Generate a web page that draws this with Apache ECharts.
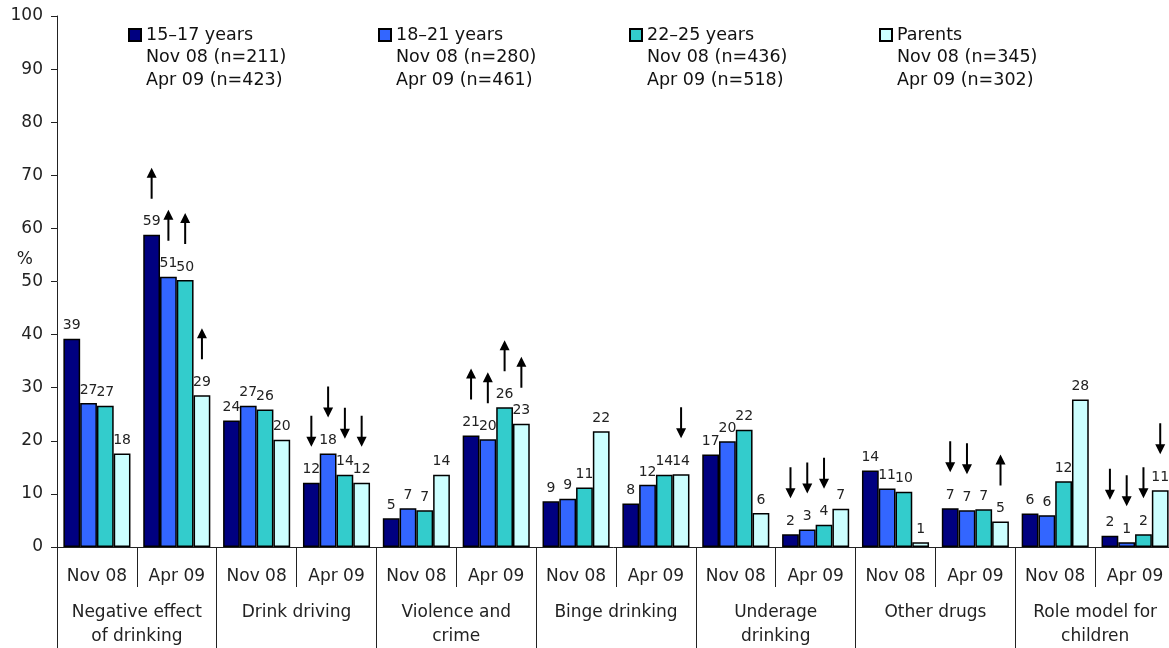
<!DOCTYPE html>
<html>
<head>
<meta charset="utf-8">
<script src="https://cdn.jsdelivr.net/npm/echarts@6/dist/echarts.min.js"></script>
<style>
  html, body { margin: 0; padding: 0; background: #fff; }
  #chart { width: 1169px; height: 648px; }
</style>
</head>
<body>
<div id="chart"></div>
<script>
// Survey waves and topic groups along the x axis
const periods = ['Nov 08', 'Apr 09', 'Nov 08', 'Apr 09', 'Nov 08', 'Apr 09', 'Nov 08', 'Apr 09',
                 'Nov 08', 'Apr 09', 'Nov 08', 'Apr 09', 'Nov 08', 'Apr 09'];
const topics = ['Negative effect\nof drinking', 'Drink driving', 'Violence and\ncrime', 'Binge drinking',
                'Underage\ndrinking', 'Other drugs', 'Role model for\nchildren'];

const seriesNames = ['15–17 years', '18–21 years', '22–25 years', 'Parents'];
const sampleNotes = [
  ['Nov 08 (n=211)', 'Apr 09 (n=423)'],
  ['Nov 08 (n=280)', 'Apr 09 (n=461)'],
  ['Nov 08 (n=436)', 'Apr 09 (n=518)'],
  ['Nov 08 (n=345)', 'Apr 09 (n=302)']
];

// Percentages per wave (Nov 08 / Apr 09 pairs per topic)
const age15to17 = [39.2, 58.8, 23.8, 12.1, 5.4, 21.0, 8.6, 8.2, 17.4, 2.4, 14.4, 7.3, 6.3, 2.1];
const age18to21 = [27.1, 50.9, 26.6, 17.6, 7.3, 20.3, 9.1, 11.7, 19.9, 3.3, 11.0, 6.9, 6.0, 0.9];
const age22to25 = [26.6, 50.3, 25.9, 13.6, 6.9, 26.3, 11.2, 13.6, 22.1, 4.2, 10.4, 7.1, 12.4, 2.4];
const parents   = [17.6, 28.6, 20.2, 12.1, 13.6, 23.2, 21.8, 13.7, 6.4, 7.2, 0.9, 4.8, 27.8, 10.7];

// Significant change since the previous wave: 'up', 'down' or ''
const change15to17 = ['', 'up', '', 'down', '', 'up', '', '', '', 'down', '', 'down', '', 'down'];
const change18to21 = ['', 'up', '', 'down', '', 'up', '', '', '', 'down', '', 'down', '', 'down'];
const change22to25 = ['', 'up', '', 'down', '', 'up', '', '', '', 'down', '', '', '', 'down'];
const changeParents = ['', 'up', '', 'down', '', 'up', '', 'down', '', '', '', 'up', '', 'down'];

const yTicks = { min: 0, max: 100, interval: 10 };

const values = [age15to17, age18to21, age22to25, parents];
const changes = [change15to17, change18to21, change22to25, changeParents];
const colors = ['#000080', '#3366FF', '#33CCCC', '#CCFFFF'];

const FONT = 'DejaVu Sans';
const UP_ARROW = 'path://M5,0 L10,10 L6,10 L6,31 L4,31 L4,10 L0,10 Z';
const DOWN_ARROW = 'path://M4,0 L6,0 L6,21 L10,21 L5,31 L0,21 L4,21 Z';
const ARROW_LEN = 31;
const ARROW_GAP = 36;

const series = values.map(function (vals, s) {
  const marks = [];
  changes[s].forEach(function (dir, i) {
    if (!dir) return;
    marks.push({
      coord: [i, vals[i]],
      symbol: dir === 'up' ? UP_ARROW : DOWN_ARROW,
      symbolSize: [10, ARROW_LEN],
      symbolOffset: [0, -(ARROW_GAP + ARROW_LEN / 2)]
    });
  });
  return {
    name: seriesNames[s],
    type: 'bar',
    xAxisIndex: 0,
    barGap: '0%',
    barCategoryGap: '16%',
    data: vals,
    itemStyle: { color: colors[s], borderColor: '#000', borderWidth: 1.5 },
    label: {
      show: true,
      position: 'top',
      distance: 6,
      fontFamily: FONT,
      fontSize: 14,
      color: '#222',
      formatter: function (p) { return Math.round(p.value); }
    },
    markPoint: {
      silent: true,
      symbolKeepAspect: false,
      label: { show: false },
      itemStyle: { color: '#000', borderWidth: 0 },
      data: marks
    }
  };
});

// Each legend entry: the swatch sits beside the first of three text lines,
// so two blank lines above keep the name line centred on the swatch.
const legendLeft = [128, 378, 629, 879];
const LINE_H = 22.5;
const legends = seriesNames.map(function (name, s) {
  return {
    data: [name],
    left: legendLeft[s],
    top: 35 - 2.5 * LINE_H,
    padding: 0,
    itemWidth: 12,
    itemHeight: 12,
    selectedMode: false,
    icon: 'rect',
    formatter: function (n) { return '\n\n' + n + '\n' + sampleNotes[s].join('\n'); },
    textStyle: {
      fontFamily: FONT,
      fontSize: 17.5,
      color: '#111',
      lineHeight: LINE_H
    }
  };
});

const chart = echarts.init(document.getElementById('chart'), null, { renderer: 'canvas' });
chart.setOption({
  animation: false,
  backgroundColor: '#fff',
  textStyle: { fontFamily: FONT },
  legend: legends,
  grid: { left: 57, right: -6, top: 16, bottom: 101, containLabel: false, outerBoundsMode: 'none' },
  xAxis: [
    {
      type: 'category',
      data: periods,
      position: 'bottom',
      axisLine: { show: true, lineStyle: { color: '#222', width: 1 } },
      axisTick: { show: true, interval: 0, length: 40, lineStyle: { color: '#222', width: 1 } },
      axisLabel: { interval: 0, margin: 21, fontFamily: FONT, fontSize: 17, color: '#222' }
    },
    {
      type: 'category',
      data: topics,
      position: 'bottom',
      axisLine: { show: false },
      axisTick: { show: true, interval: 0, length: 110, lineStyle: { color: '#222', width: 1 } },
      axisLabel: { interval: 0, margin: 54, fontFamily: FONT, fontSize: 17, color: '#222', lineHeight: 24 }
    }
  ],
  yAxis: {
    type: 'value',
    min: yTicks.min,
    max: yTicks.max,
    interval: yTicks.interval,
    name: '%\n\n',
    nameLocation: 'middle',
    nameRotate: 0,
    nameGap: 24,
    nameMoveOverlap: false,
    nameTextStyle: { fontFamily: FONT, fontSize: 17, color: '#222', lineHeight: 22 },
    splitLine: { show: false },
    axisLine: { show: true, lineStyle: { color: '#222', width: 1 } },
    axisTick: { show: true, length: 6, lineStyle: { color: '#222' } },
    axisLabel: { margin: 14, fontFamily: FONT, fontSize: 17, color: '#222' }
  },
  series: series
});
</script>
</body>
</html>
